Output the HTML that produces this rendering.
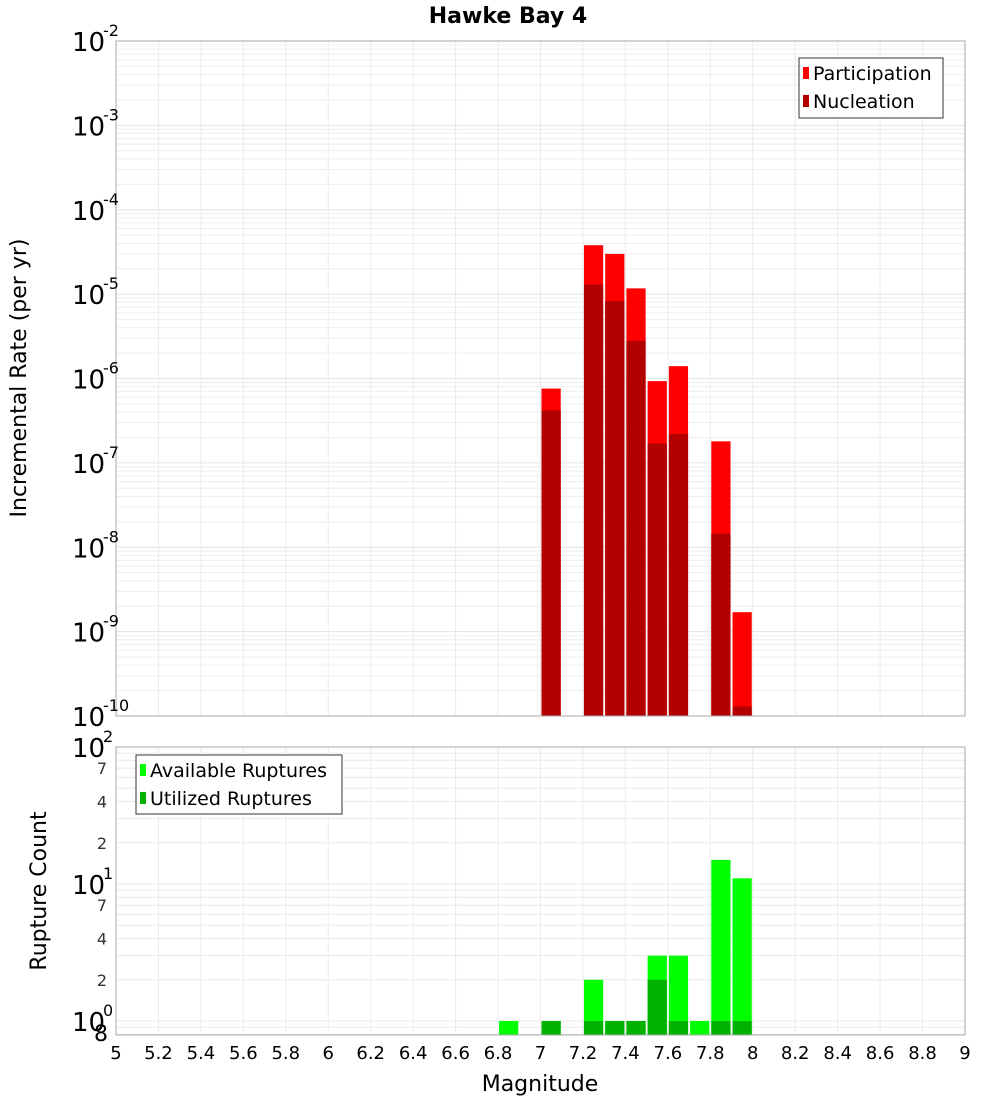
<!DOCTYPE html>
<html><head><meta charset="utf-8"><style>
body{margin:0;background:#fff;}
svg text{font-family:"DejaVu Sans","Liberation Sans",sans-serif;}
</style></head><body>
<svg id="chart" width="1000" height="1100" xmlns="http://www.w3.org/2000/svg">
<text x="508" y="23" text-anchor="middle" font-size="22" font-weight="bold">Hawke Bay 4</text>
<g id="gtop"></g><g id="gbot"></g>
<text transform="translate(26,378) rotate(-90)" text-anchor="middle" font-size="22">Incremental Rate (per yr)</text>
<text transform="translate(46,891) rotate(-90)" text-anchor="middle" font-size="22">Rupture Count</text>
<text x="540" y="1091" text-anchor="middle" font-size="22">Magnitude</text>
<g>
<rect x="799" y="58" width="144" height="60" fill="#fff" stroke="#333"/>
<rect x="803" y="67" width="6" height="12" fill="#ff0000"/>
<text x="813" y="80" font-size="19">Participation</text>
<rect x="803" y="95" width="6" height="12" fill="#b20000"/>
<text x="813" y="108" font-size="19">Nucleation</text>
</g>
<g>
<rect x="136" y="755" width="206" height="59" fill="#fff" stroke="#333"/>
<rect x="140" y="764" width="6" height="12" fill="#00ff00"/>
<text x="150" y="777" font-size="19">Available Ruptures</text>
<rect x="140" y="792" width="6" height="12" fill="#00b200"/>
<text x="150" y="805" font-size="19">Utilized Ruptures</text>
</g>
</svg>
<script>
const mags=[7.05,7.25,7.35,7.45,7.55,7.65,7.85,7.95];
const participation=[7.6e-7,3.8e-5,3.0e-5,1.17e-5,9.3e-7,1.4e-6,1.8e-7,1.7e-9];
const nucleation=[4.2e-7,1.3e-5,8.3e-6,2.8e-6,1.7e-7,2.2e-7,1.45e-8,1.3e-10];
const countMags=[6.85,7.05,7.25,7.35,7.45,7.55,7.65,7.75,7.85,7.95];
const available=[1,1,2,1,1,3,3,1,15,11];
const utilized=[0,1,1,1,1,2,1,0,1,1];
const xTicks=[5,5.2,5.4,5.6,5.8,6,6.2,6.4,6.6,6.8,7,7.2,7.4,7.6,7.8,8,8.2,8.4,8.6,8.8,9];
const NS="http://www.w3.org/2000/svg";
const L=116,R=965;
const X=m=>L+(m-5)/4*(R-L);
const T0=41,T1=716;const yT=v=>T0+(-2-Math.log10(v))/8*(T1-T0);
const B0=747,B1=1035;const dec=137;const yB=v=>B0+(2-Math.log10(v))*dec;
function el(p,t,a){const e=document.createElementNS(NS,t);for(const k in a)e.setAttribute(k,a[k]);p.appendChild(e);return e;}
const gTop=document.getElementById('gtop'),gBot=document.getElementById('gbot');
el(gTop,'rect',{x:L,y:T0,width:R-L,height:T1-T0,fill:'#fff',stroke:'none'});
el(gBot,'rect',{x:L,y:B0,width:R-L,height:B1-B0,fill:'#fff',stroke:'none'});
for(let e=-10;e<-2;e++)for(let k=1;k<10;k++){const y=yT(k*Math.pow(10,e));const g=el(gTop,'line',{x1:L,x2:R,y1:y,y2:y,stroke:k==1?'#e4e4e4':'#eeeeee','stroke-width':1});}
for(let e=-1;e<2;e++)for(let k=1;k<10;k++){const v=k*Math.pow(10,e);const y=yB(v);if(y>B1||y<B0)continue;const g=el(gBot,'line',{x1:L,x2:R,y1:y,y2:y,stroke:'#eaeaea','stroke-width':1});}
xTicks.forEach(m=>{const x=X(m);el(gTop,'line',{x1:x,x2:x,y1:T0,y2:T1,stroke:'#ebebeb'});el(gBot,'line',{x1:x,x2:x,y1:B0,y2:B1,stroke:'#ebebeb'});
const t=el(gBot,'text',{x:x,y:1059,'text-anchor':'middle','font-size':18});t.textContent=String(m);});
const bw=X(5.1)-X(5)-2;
mags.forEach((m,i)=>{const x=X(m)-bw/2;
const p=el(gTop,'rect',{x:x,y:yT(participation[i]),width:bw,height:T1-yT(participation[i]),fill:'#ff0000'});
const n=el(gTop,'rect',{x:x,y:yT(nucleation[i]),width:bw,height:T1-yT(nucleation[i]),fill:'#b20000'});});
countMags.forEach((m,i)=>{const x=X(m)-bw/2;
if(available[i]>0){const a=el(gBot,'rect',{x:x,y:yB(available[i]),width:bw,height:B1-yB(available[i]),fill:'#00ff00'});}
if(utilized[i]>0){const u=el(gBot,'rect',{x:x,y:yB(utilized[i]),width:bw,height:B1-yB(utilized[i]),fill:'#00b200'});}});
el(gTop,'rect',{x:L,y:T0,width:R-L,height:T1-T0,fill:'none',stroke:'#aaa'});
el(gBot,'rect',{x:L,y:B0,width:R-L,height:B1-B0,fill:'none',stroke:'#aaa'});
for(let e=-2;e>=-10;e--){const y=yT(Math.pow(10,e));const t=el(gTop,'text',{x:72,y:y+10,'font-size':26});t.textContent='10';
const s=el(gTop,'text',{x:103,y:y-5,'font-size':16});s.textContent=String(e);}
[[100,'10','2'],[10,'10','1'],[1,'10','0']].forEach(([v,b,s])=>{const y=yB(v);const t=el(gBot,'text',{x:72,y:y+10,'font-size':26});t.textContent=b;const q=el(gBot,'text',{x:103,y:y-5,'font-size':16});q.textContent=s;});
[[70,'7'],[40,'4'],[20,'2'],[7,'7'],[4,'4'],[2,'2']].forEach(([v,s])=>{const t=el(gBot,'text',{x:107,y:yB(v)+6,'text-anchor':'end','font-size':16,fill:'#333'});t.textContent=s;});
{const t=el(gBot,'text',{x:108,y:1041,'text-anchor':'end','font-size':22});t.textContent='8';}
</script>
</body></html>
